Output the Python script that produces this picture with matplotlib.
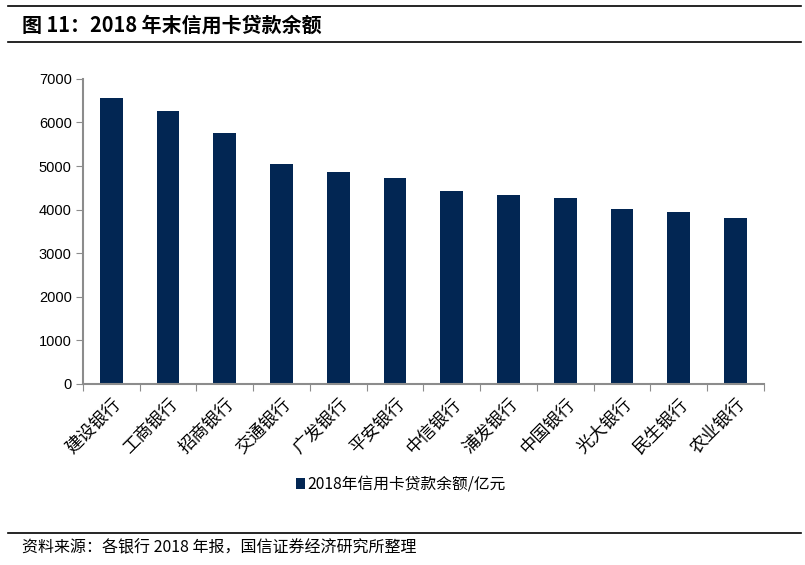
import matplotlib.pyplot as plt
from matplotlib.lines import Line2D

plt.rcParams['font.family'] = ['Noto Sans CJK SC', 'DejaVu Sans']

# 各银行 2018 年末信用卡贷款余额（亿元）
banks = ['建设银行', '工商银行', '招商银行', '交通银行', '广发银行', '平安银行',
         '中信银行', '浦发银行', '中国银行', '光大银行', '民生银行', '农业银行']
balances = [6550, 6260, 5760, 5050, 4860, 4730, 4420, 4340, 4270, 4010, 3940, 3810]
y_ticks = [0, 1000, 2000, 3000, 4000, 5000, 6000, 7000]

bar_color = '#022653'
axis_color = '#8c8c8c'

fig = plt.figure(figsize=(8.05, 5.65), dpi=100)
ax = fig.add_axes([0.103, 0.3204, 0.846, 0.540])

x = range(len(banks))
ax.bar(x, balances, width=0.4, color=bar_color, label='2018年信用卡贷款余额/亿元')

ax.set_xlim(-0.5, len(banks) - 0.5)
ax.set_ylim(0, 7000)
ax.set_yticks(y_ticks)
ax.set_yticklabels([str(v) for v in y_ticks], fontsize=10.5, family=['Liberation Sans'])

# x 轴刻度放在类别之间
ax.set_xticks([i - 0.5 for i in range(len(banks) + 1)])
ax.set_xticklabels([])
ax.set_xticks(list(x), minor=True)
ax.set_xticklabels(banks, minor=True, rotation=45, ha='right', va='top',
                   rotation_mode='anchor', fontsize=12.5)
ax.tick_params(axis='x', which='minor', length=0, pad=8)
ax.tick_params(axis='x', which='major', length=5, color=axis_color, direction='out')
ax.tick_params(axis='y', length=5, color=axis_color, direction='out', pad=3)

for side in ['top', 'right']:
    ax.spines[side].set_visible(False)
for side in ['left', 'bottom']:
    ax.spines[side].set_color(axis_color)
    ax.spines[side].set_linewidth(1.5)

ax.legend(loc='center', bbox_to_anchor=(0.467, -0.33), frameon=False,
          fontsize=11.3, handlelength=0.55, handleheight=0.75, handletextpad=0.15)

# 标题与来源
fig.add_artist(Line2D([0.01, 0.995], [1 - 6 / 565, 1 - 6 / 565], color='black', lw=1.2))
fig.add_artist(Line2D([0.01, 0.995], [1 - 42 / 565, 1 - 42 / 565], color='black', lw=1.2))
fig.text(0.027, 1 - 25 / 565, '图 11：2018 年末信用卡贷款余额', fontsize=14.4,
         fontweight='bold', va='center', ha='left')
fig.add_artist(Line2D([0.01, 0.995], [1 - 533 / 565, 1 - 533 / 565], color='black', lw=1.2))
fig.text(0.027, 1 - 548 / 565, '资料来源：各银行 2018 年报，国信证券经济研究所整理',
         fontsize=11.5, va='center', ha='left')

fig.savefig('out.png', dpi=100)
